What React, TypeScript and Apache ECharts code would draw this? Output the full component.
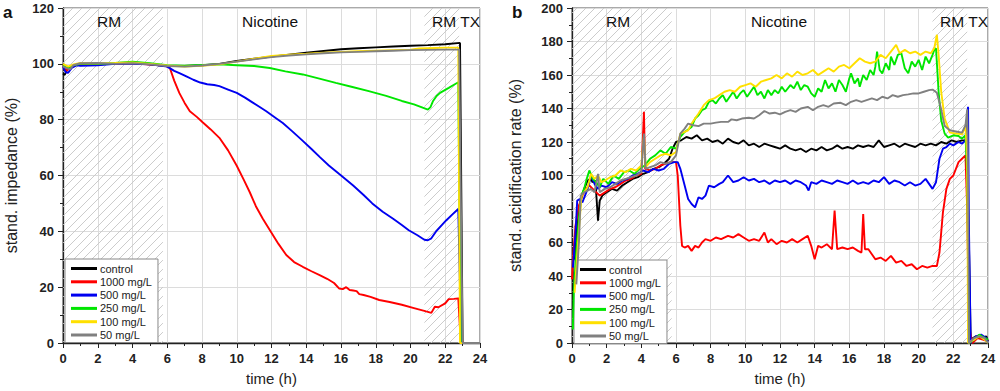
import React, { useEffect, useRef } from "react";
import * as echarts from "echarts";

const FONT = 'Arial, "Liberation Sans", Helvetica, sans-serif';

const seriesNames = ["control", "1000 mg/L", "500 mg/L", "250 mg/L", "100 mg/L", "50 mg/L"];
const seriesColors = ["#000000", "#ff0000", "#0000f0", "#00e600", "#ffe000", "#808080"];

const xTicks = { min: 0, max: 24, interval: 2 };
const impTicks = { min: 0, max: 120, interval: 20 };
const acidTicks = { min: 0, max: 200, interval: 20 };

const hatchRanges = [
  [0, 5.75],
  [20.8, 22.8],
];

// Panel a: standardized impedance (%)
const aControl = [[0,96.5],[0.1,96],[0.2,97.5],[0.4,99],[0.7,99.5],[1,99.8],[2,99.8],[3,100],[4,100.3],[5,99.8],[6,99.2],[7,99.2],[8,99.5],[9,100],[10,101],[11,101.8],[12,102.6],[13,103.3],[14,104],[15,104.6],[16,105.2],[17,105.6],[18,105.9],[19,106.2],[20,106.5],[21,106.7],[22,107],[22.85,107.5],[23,0],[24,0]];
const aRed = [[0,99.5],[0.2,97.5],[0.4,98.5],[0.7,99.5],[1,99.7],[2,100],[3,100],[4,100.2],[5,99.7],[5.9,99.3],[6.15,98.5],[6.4,94],[6.7,89.5],[7,86],[7.3,83],[7.7,81],[8.05,79],[8.5,76.5],[9,73.5],[9.5,69],[10,63.5],[10.4,58.5],[10.75,54],[11.1,49],[11.5,44.5],[11.9,40.5],[12.4,35.5],[12.85,31.5],[13.3,29],[13.8,27.3],[14.3,25.7],[14.8,24.2],[15.2,23],[15.6,21.5],[15.9,19.5],[16.1,19.3],[16.3,20],[16.5,19],[16.7,18.8],[16.9,18.6],[17.05,17.5],[17.3,17.2],[17.7,16.5],[18.2,15.4],[18.8,14.7],[19.5,13.7],[20.2,12.5],[20.9,11.3],[21.2,10.8],[21.4,13],[21.6,12.8],[22,14.2],[22.2,15.7],[22.5,15.8],[22.75,16],[22.85,5],[23,0],[24,0]];
const aBlue = [[0,99],[0.15,97],[0.3,96.8],[0.5,98.5],[0.8,99.5],[1,99.3],[2,99.5],[3,100],[4,100],[5,99.8],[6,99],[6.4,97.5],[6.7,96.7],[7.1,95.5],[7.5,94.3],[7.9,93.3],[8.3,92.7],[8.7,92.4],[9,92],[9.5,90.8],[10,89.6],[10.5,87.8],[10.9,86.2],[11.3,84.6],[11.7,83],[12.2,80.8],[12.65,78.8],[13.2,75.8],[13.8,72.4],[14.3,69.5],[14.8,66.5],[15.3,63.6],[15.9,60.5],[16.3,58.5],[16.7,56.4],[17.3,53],[17.8,50],[18.4,47],[19,44.5],[19.5,42.3],[19.9,40.4],[20.4,38.6],[20.8,37],[21,36.8],[21.2,37.5],[21.5,40.2],[21.8,42.2],[22.05,43.9],[22.4,46],[22.75,48],[22.85,20],[22.95,0],[24,0]];
const aGreen = [[0,99.5],[0.3,98.5],[0.6,99.5],[1,100],[2,100],[3,100.3],[4,100.8],[5,100.2],[6,99.5],[7,99.3],[8,99.6],[9,99.8],[10,99.5],[11,99.2],[11.9,98.5],[12.8,97.3],[13.8,96.2],[14.7,94.8],[15.7,93.2],[16.6,91.8],[17.6,90.2],[18.6,88.5],[19.5,86.7],[20.2,85.5],[20.7,84.3],[21,83.6],[21.15,84.5],[21.3,86.7],[21.5,88.5],[21.7,89.6],[22.2,91.4],[22.5,92.5],[22.75,93.4],[22.8,60],[22.9,0],[24,0]];
const aYellow = [[0,100],[0.3,99],[0.6,99.8],[1,100.3],[2,100.2],[3,100.3],[4,100.5],[5,100],[6,99.4],[7,99],[8,99.3],[9,99.8],[10,100.8],[11,101.8],[12,102.8],[13,103.3],[14,103.6],[15,104],[16,104.3],[17,104.5],[18,104.7],[19,104.9],[20,105.1],[20.5,105.5],[21,105.6],[22,105.8],[22.75,105.8],[22.8,50],[22.85,0],[24,0]];
const aGray = [[0,99],[0.2,98.5],[0.4,98],[0.6,99.5],[1,100.2],[2,100.3],[3,100],[4,100.2],[5,99.8],[6,99.2],[7,99],[8,99.4],[9,100],[10,100.8],[11,101.6],[12,102.4],[13,103],[14,103.4],[15,103.8],[16,104.1],[17,104.3],[18,104.5],[19,104.7],[20,104.9],[21,105],[22,105.1],[22.8,105.1],[22.9,50],[23,0],[24,0]];

// Panel b: standardized acidification rate (%)
const bControl = [[0.05,20],[0.1,40],[0.3,70],[0.5,86],[0.7,92],[0.9,97],[1.05,98],[1.2,96],[1.35,97],[1.5,73],[1.6,85],[1.75,88],[2,90],[2.3,92],[2.6,91],[2.9,94],[3.2,96],[3.5,98],[3.8,99],[4.1,101],[4.4,102],[4.7,104],[5,105],[5.3,107],[5.6,110],[5.8,116],[6,120],[6.3,121],[6.6,123],[6.9,122],[7.2,124],[7.5,121],[7.8,122],[8.1,120],[8.4,121],[8.7,119],[9,122],[9.3,120],[9.6,119],[9.9,121],[10.2,118],[10.5,119],[10.8,117],[11.1,119],[11.4,118],[11.7,117],[12,116],[12.3,118],[12.6,116],[12.9,115],[13.2,116],[13.5,114],[13.8,116],[14.1,115],[14.4,117],[14.7,115],[15,116],[15.3,118],[15.6,116],[15.9,117],[16.2,116],[16.5,118],[16.8,117],[17.1,118],[17.4,117],[17.7,121],[18,117],[18.3,118],[18.6,119],[18.9,117],[19.2,119],[19.5,118],[19.8,117],[20.1,119],[20.4,118],[20.7,119],[21,118],[21.3,120],[21.6,119],[21.9,121],[22.2,120],[22.5,121],[22.75,121],[22.9,60],[23,2],[23.3,4],[23.6,3],[23.9,4],[24,1]];
const bRed = [[0,38],[0.05,50],[0.2,70],[0.4,82],[0.6,88],[0.8,92],[1,94],[1.3,91],[1.6,88],[1.9,90],[2.2,92],[2.5,93],[2.8,95],[3.1,97],[3.4,98],[3.7,100],[4,101],[4.1,125],[4.15,138],[4.22,104],[4.5,103],[4.8,104],[5.1,106],[5.4,107],[5.7,108],[6,108],[6.1,100],[6.25,70],[6.35,58],[6.5,57],[6.7,58],[6.9,55],[7.1,58],[7.3,57],[7.5,60],[7.7,62],[8,61],[8.3,63],[8.6,62],[9,64],[9.3,63],[9.6,65],[9.9,63],[10.2,61],[10.5,62],[10.8,61],[11.1,66],[11.3,60],[11.5,62],[11.8,59],[12.1,61],[12.4,60],[12.7,62],[13,60],[13.3,62],[13.6,64],[13.8,58],[14,50],[14.2,58],[14.4,57],[14.7,59],[15,56],[15.15,79],[15.3,56],[15.6,57],[15.9,56],[16.2,57],[16.5,55],[16.7,54],[16.8,77],[16.9,56],[17.1,56],[17.3,53],[17.5,50],[17.8,51],[18.1,49],[18.4,52],[18.7,48],[19,49],[19.3,46],[19.6,47],[19.9,44],[20.2,46],[20.5,45],[20.8,46],[21.05,46],[21.2,54],[21.4,78],[21.6,92],[21.8,98],[22,100],[22.3,108],[22.5,110],[22.7,112],[22.8,80],[22.9,10],[23.1,0],[23.4,3],[23.7,2],[24,1]];
const bBlue = [[0.05,45],[0.2,65],[0.3,85],[0.45,86],[0.6,84],[0.75,88],[0.9,92],[1.1,100],[1.3,95],[1.5,92],[1.7,94],[2,93],[2.3,96],[2.6,95],[2.9,97],[3.2,98],[3.5,100],[3.8,101],[4.1,103],[4.4,102],[4.7,104],[5,103],[5.3,104],[5.6,107],[5.9,108],[6.1,108],[6.25,104],[6.5,94],[6.7,86],[6.9,83],[7.1,81],[7.3,87],[7.5,86],[7.7,88],[7.9,94],[8.2,93],[8.5,95],[8.7,96],[9,100],[9.3,96],[9.6,97],[9.9,99],[10.2,97],[10.5,98],[10.8,96],[11.1,97],[11.4,95],[11.7,97],[12,96],[12.3,97],[12.6,95],[12.9,97],[13.2,96],[13.5,94],[13.65,91],[13.8,96],[14.1,95],[14.4,97],[14.7,96],[15,95],[15.3,97],[15.6,96],[15.9,95],[16.2,97],[16.5,95],[16.8,96],[17.1,95],[17.4,97],[17.7,96],[18,99],[18.3,95],[18.6,97],[18.9,96],[19.2,94],[19.5,96],[19.8,94],[20.1,95],[20.4,98],[20.6,95],[20.8,92],[21,96],[21.2,110],[21.4,116],[21.6,117],[21.8,119],[22,118],[22.3,120],[22.5,119],[22.7,121],[22.8,135],[22.85,141],[22.9,70],[23,0],[23.3,4],[23.6,5],[23.9,3],[24,0]];
const bGreen = [[0.05,8],[0.1,30],[0.25,55],[0.4,75],[0.55,88],[0.7,92],[0.85,98],[1,103],[1.2,98],[1.4,96],[1.6,93],[1.8,98],[2.1,95],[2.4,100],[2.7,98],[3,102],[3.3,103],[3.6,101],[3.9,104],[4.2,106],[4.5,110],[4.8,112],[5.1,115],[5.4,113],[5.7,117],[6,116],[6.25,123],[6.5,126],[6.9,129],[7.1,134],[7.3,136],[7.5,139],[7.7,140],[7.9,144],[8.1,145],[8.3,143],[8.5,146],[8.7,148],[8.9,144],[9.1,147],[9.3,150],[9.5,146],[9.7,149],[9.9,151],[10.1,147],[10.3,150],[10.5,153],[10.7,148],[10.9,150],[11.1,146],[11.3,151],[11.5,148],[11.7,151],[11.9,149],[12.1,153],[12.3,150],[12.6,154],[12.8,152],[13,156],[13.2,151],[13.4,154],[13.6,153],[13.8,149],[14,147],[14.2,152],[14.4,150],[14.6,157],[14.8,152],[15,155],[15.2,150],[15.4,157],[15.6,154],[15.8,150],[16,158],[16.1,161],[16.3,155],[16.5,158],[16.6,153],[16.8,160],[17,157],[17.2,163],[17.4,160],[17.5,165],[17.6,174],[17.75,163],[17.9,161],[18.1,167],[18.3,163],[18.4,171],[18.6,166],[18.8,172],[19,173],[19.2,164],[19.4,161],[19.6,168],[19.8,165],[20,169],[20.2,163],[20.4,171],[20.6,167],[20.8,172],[20.9,175],[21,176],[21.15,150],[21.3,133],[21.5,125],[21.7,122.6],[22,124],[22.3,123.6],[22.5,122],[22.7,124],[22.8,100],[22.9,0],[23.2,2],[23.5,5],[23.8,3],[24,2]];
const bYellow = [[0.15,30],[0.35,60],[0.55,88],[0.7,90],[0.9,93],[1.1,101],[1.3,98],[1.5,100],[1.7,96],[1.9,97],[2.2,99],[2.5,100],[2.8,103],[3.1,102],[3.4,104],[3.7,103],[4,106],[4.15,124],[4.25,105],[4.5,108],[4.8,110],[5.1,112],[5.4,113],[5.7,112],[6,114],[6.25,125],[6.5,126],[6.7,127],[6.9,131],[7.1,134],[7.3,137],[7.6,142],[7.9,145],[8.2,146],[8.5,148],[8.8,150],[9.1,151],[9.4,150],[9.7,153],[10,154],[10.3,155],[10.6,153],[10.9,156],[11.2,157],[11.5,158],[11.8,160],[12.1,158],[12.4,161],[12.7,159],[13,162],[13.3,160],[13.6,161],[13.9,163],[14.2,160],[14.5,162],[14.8,164],[15.1,162],[15.4,165],[15.7,166],[16,164],[16.3,167],[16.6,170],[16.9,168],[17.2,167],[17.5,168],[17.8,172],[18.1,170],[18.4,174],[18.7,178],[18.9,173],[19.2,175],[19.5,173],[19.8,174],[20.1,172],[20.4,174],[20.7,173],[20.9,176],[21.05,184],[21.15,172],[21.3,150],[21.5,134],[21.8,125.6],[22.2,125],[22.5,124.6],[22.7,129.6],[22.8,110],[22.85,0],[23.2,2],[23.5,4],[23.8,2],[24,0]];
const bGray = [[0.25,35],[0.4,60],[0.5,88],[0.7,90],[0.9,91],[1.1,92],[1.3,90],[1.5,101],[1.6,90],[1.9,92],[2.2,93],[2.5,95],[2.8,97],[3.1,98],[3.4,99],[3.7,100],[4,102],[4.1,118],[4.15,125],[4.25,104],[4.5,105],[4.8,106],[5.1,108],[5.4,107],[5.7,108],[6,112],[6.25,125],[6.5,128],[6.7,131],[7,130],[7.3,129.5],[7.6,131],[8,131],[8.3,131.6],[8.6,132],[9,132],[9.2,133.5],[9.5,133],[9.8,134],[10.2,134.5],[10.5,134],[10.8,136],[11.1,138.5],[11.4,137],[11.7,137.5],[12,136.5],[12.3,138],[12.6,139],[12.9,138],[13.2,140],[13.6,141],[13.9,139],[14.2,141],[14.5,142],[14.8,141],[15.1,143],[15.5,143.4],[15.8,142],[16.1,144],[16.4,145],[16.7,144],[17,145],[17.3,146],[17.6,145],[17.9,147],[18.2,146],[18.5,148],[18.8,147],[19.1,148],[19.4,148.4],[19.7,149],[20,149],[20.3,150],[20.6,151],[20.8,151.3],[21.05,149.4],[21.3,139.5],[21.5,129.6],[21.8,127],[22,126.6],[22.3,126],[22.5,125.6],[22.7,130],[22.8,139.5],[22.85,100],[22.9,0],[23.2,3],[23.5,4],[23.8,3],[24,0]];

const panelA = [aControl, aRed, aBlue, aGreen, aYellow, aGray];
const panelB = [bControl, bRed, bBlue, bGreen, bYellow, bGray];

const regionLabels = ["RM", "Nicotine", "RM TX"];

function makeHatch() {
  const s = 9;
  const c = document.createElement("canvas");
  c.width = s;
  c.height = s;
  const ctx = c.getContext("2d");
  if (ctx) {
    ctx.strokeStyle = "#c6c6c6";
    ctx.lineWidth = 0.9;
    ctx.beginPath();
    ctx.moveTo(0, s);
    ctx.lineTo(s, 0);
    ctx.stroke();
  }
  return c;
}

function xAxisCfg(gridIndex: number) {
  return {
    type: "value",
    gridIndex,
    min: xTicks.min,
    max: xTicks.max,
    interval: xTicks.interval,
    name: "time (h)",
    nameLocation: "middle",
    nameGap: 28,
    nameTextStyle: { fontFamily: FONT, fontSize: 15, color: "#222" },
    axisLine: { show: true, onZero: false, lineStyle: { color: "#222", width: 1.3 } },
    axisTick: { show: true, length: 5, lineStyle: { color: "#222" } },
    minorTick: { show: true, splitNumber: 2, length: 3, lineStyle: { color: "#222" } },
    axisLabel: { fontFamily: FONT, fontSize: 13, fontWeight: "bold", color: "#222", margin: 9 },
    splitLine: { show: true, lineStyle: { color: "#dcdcdc", width: 1 } },
  };
}

function yAxisCfg(gridIndex: number, ticks: any, name: string, gap: number) {
  return {
    type: "value",
    gridIndex,
    min: ticks.min,
    max: ticks.max,
    interval: ticks.interval,
    name,
    nameLocation: "middle",
    nameGap: gap,
    nameTextStyle: { fontFamily: FONT, fontSize: 16, color: "#222" },
    axisLine: { show: true, onZero: false, lineStyle: { color: "#222", width: 1.3 } },
    axisTick: { show: true, length: 5, lineStyle: { color: "#222" } },
    minorTick: { show: true, splitNumber: 2, length: 3, lineStyle: { color: "#222" } },
    axisLabel: { fontFamily: FONT, fontSize: 13, fontWeight: "bold", color: "#222", margin: 9 },
    splitLine: { show: true, lineStyle: { color: "#dcdcdc", width: 1 } },
  };
}

function legendCfg(left: number, top: number) {
  return {
    orient: "vertical",
    left,
    top,
    data: seriesNames.map((n) => ({ name: n, icon: "rect" })),
    itemWidth: 26,
    itemHeight: 3,
    itemGap: 2.3,
    padding: [4, 6, 2, 6],
    backgroundColor: "#ffffff",
    borderColor: "#888",
    borderWidth: 1,
    selectedMode: false,
    textStyle: { fontFamily: FONT, fontSize: 11, color: "#222", padding: [0, 0, 0, -2], lineHeight: 11 },
  };
}

export default function App() {
  const ref = useRef<HTMLDivElement>(null);
  useEffect(() => {
    if (!ref.current) return;
    const chart = echarts.init(ref.current, null, { renderer: "svg" });
    const hatch = { image: makeHatch(), repeat: "repeat" };
    const markArea = {
      silent: true,
      itemStyle: { color: hatch as any, borderWidth: 0 },
      data: hatchRanges.map((r) => [{ xAxis: r[0] }, { xAxis: r[1] }]),
    };
    const mk = (data: number[][], i: number, idx: number) => ({
      type: "line",
      name: seriesNames[i],
      xAxisIndex: idx,
      yAxisIndex: idx,
      data,
      symbol: "none",
      showSymbol: false,
      lineStyle: { color: seriesColors[i], width: 1.9 },
      itemStyle: { color: seriesColors[i] },
      z: 3 + i,
      markArea: i === 0 ? markArea : undefined,
    });
    const labelStyle = { fontFamily: FONT, fontSize: 15.5, fill: "#111", textAlign: "center", textVerticalAlign: "middle" };
    const labelPos = [
      [109, 270, 456],
      [618, 779, 964],
    ];
    const graphic: any[] = [
      { type: "text", x: 3, y: 12, style: { text: "a", fontFamily: FONT, fontSize: 17, fontWeight: "bold", fill: "#111", textVerticalAlign: "middle" } },
      { type: "text", x: 512, y: 12, style: { text: "b", fontFamily: FONT, fontSize: 17, fontWeight: "bold", fill: "#111", textVerticalAlign: "middle" } },
    ];
    labelPos.forEach((row) =>
      row.forEach((x, k) => graphic.push({ type: "text", x, y: 21, z: 20, style: { ...labelStyle, text: regionLabels[k] } }))
    );
    chart.setOption({
      animation: false,
      textStyle: { fontFamily: FONT },
      grid: [
        { left: 63, top: 8, width: 417, height: 337, show: true, borderColor: "#555", borderWidth: 1, backgroundColor: "transparent" },
        { left: 572, top: 8, width: 416, height: 337, show: true, borderColor: "#555", borderWidth: 1, backgroundColor: "transparent" },
      ],
      xAxis: [xAxisCfg(0), xAxisCfg(1)],
      yAxis: [
        yAxisCfg(0, impTicks, "stand. impedance (%)", 44),
        yAxisCfg(1, acidTicks, "stand. acidification rate (%)", 49),
      ],
      legend: [legendCfg(65, 259), legendCfg(574, 260)],
      graphic,
      series: [
        ...panelA.map((d, i) => mk(d, i, 0)),
        ...panelB.map((d, i) => mk(d, i, 1)),
      ],
    });
    return () => chart.dispose();
  }, []);
  return <div ref={ref} style={{ position: "absolute", left: 0, top: 0, width: 1000, height: 391 }} />;
}
